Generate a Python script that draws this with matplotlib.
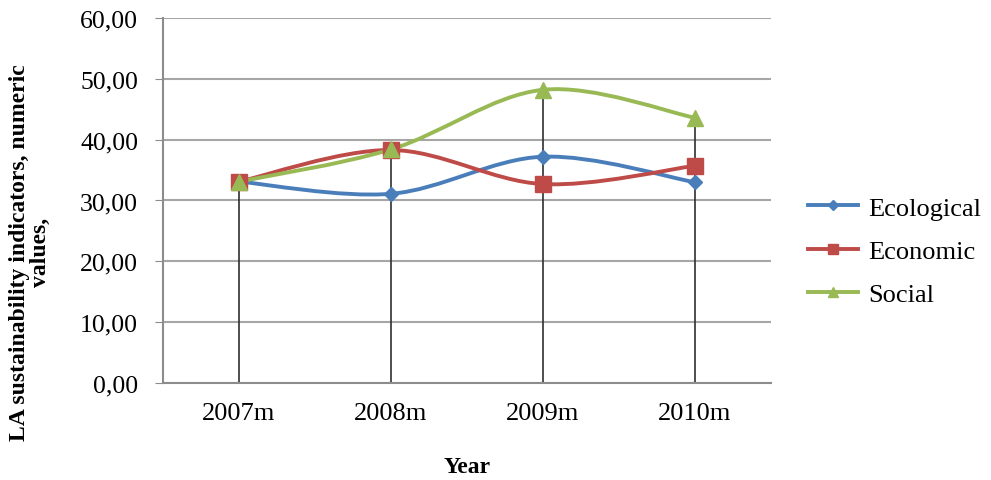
import numpy as np
import matplotlib
matplotlib.use('Agg')
import matplotlib.pyplot as plt
from matplotlib.path import Path
from matplotlib.patches import PathPatch
from matplotlib.lines import Line2D

# Datos
years = ['2007m', '2008m', '2009m', '2010m']
ecological = [33.1, 31.1, 37.2, 33.0]
economic = [33.1, 38.3, 32.7, 35.7]
social = [33.1, 38.4, 48.2, 43.6]

plt.rcParams['font.family'] = ['Liberation Serif', 'DejaVu Serif']

fig = plt.figure(figsize=(9.91, 4.81), dpi=100)
ax = fig.add_axes([0.1645, 0.2017, 0.6135, 0.7588])

x = np.arange(len(years))


def smooth_path(xs, ys):
    # curva tipo Excel (Catmull-Rom como Bezier)
    pts = np.column_stack([xs, ys]).astype(float)
    ext = np.vstack([pts[0], pts, pts[-1]])
    verts = [pts[0]]
    codes = [Path.MOVETO]
    for i in range(len(pts) - 1):
        p0, p1, p2, p3 = ext[i], ext[i + 1], ext[i + 2], ext[i + 3]
        c1 = p1 + (p2 - p0) / 6.0
        c2 = p2 - (p3 - p1) / 6.0
        verts += [c1, c2, p2]
        codes += [Path.CURVE4] * 3
    return Path(verts, codes)


# lineas de caida
tops = np.max([ecological, economic, social], axis=0)
ax.vlines(x, 0, tops, color='#303030', lw=1.2, zorder=2)

series = [
    ('Ecological', ecological, '#4a7ebb', 'D', 7),
    ('Economic', economic, '#be4b48', 's', 11),
    ('Social', social, '#98b954', '^', 11),
]
handles = []
for name, vals, col, mk, ms in series:
    ax.add_patch(PathPatch(smooth_path(x, vals), fill=False, edgecolor=col,
                           lw=2.8, zorder=3))
    ax.plot(x, vals, ls='none', marker=mk, ms=ms, color=col, zorder=4)
    handles.append(Line2D([], [], color=col, lw=2.8, marker=mk, ms=ms * 0.7,
                          label=name))

ax.set_xlim(-0.5, 3.5)
ax.set_ylim(0, 60)
ax.set_yticks(np.arange(0, 61, 10))
ax.yaxis.set_major_formatter(plt.FuncFormatter(lambda v, p: ('%.2f' % v).replace('.', ',')))
ax.set_xticks(x)
ax.set_xticklabels(years)
ax.tick_params(axis='x', length=0, pad=14, labelsize=19)
ax.tick_params(axis='y', length=6, color='#8c8c8c', labelsize=18.5, pad=12)
ax.grid(axis='y', color='#a6a6a6', lw=1.5)
ax.set_axisbelow(True)
for s in ['top', 'right']:
    ax.spines[s].set_visible(False)
for s in ['left', 'bottom']:
    ax.spines[s].set_color('#8c8c8c')
    ax.spines[s].set_linewidth(1.5)

ax.set_xlabel('Year', fontsize=17, fontweight='bold')
ax.xaxis.set_label_coords(0.5, -0.2)
ax.set_ylabel('LA sustainability indicators, numeric\nvalues,', fontsize=17,
              fontweight='bold', linespacing=1.0)
ax.yaxis.set_label_coords(-0.184, 0.36)

fig.legend(handles=handles, loc='center left', bbox_to_anchor=(0.815, 0.476),
           frameon=False, fontsize=19, handlelength=1.9, labelspacing=0.75,
           handletextpad=0.4, borderpad=0, borderaxespad=0)

fig.savefig('out.png', dpi=100)
